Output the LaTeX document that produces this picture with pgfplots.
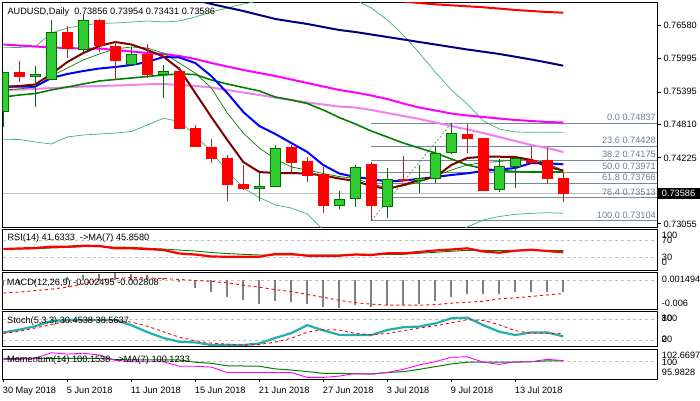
\documentclass[border=0pt]{standalone}
\usepackage{fontspec}
\setmainfont{Liberation Sans}
\usepackage{pgfplots}
\pgfplotsset{compat=1.18}
\definecolor{bullfill}{RGB}{50,205,50}
\definecolor{bulledge}{RGB}{0,110,0}
\definecolor{bearwick}{RGB}{178,34,34}
\definecolor{mtred}{RGB}{255,0,0}
\definecolor{mtblue}{RGB}{0,0,255}
\definecolor{mtmagenta}{RGB}{255,0,255}
\definecolor{mtmaroon}{RGB}{128,0,0}
\definecolor{mtnavy}{RGB}{0,0,128}
\definecolor{mtviolet}{RGB}{238,130,238}
\definecolor{mtgreen}{RGB}{0,128,0}
\definecolor{mtbb}{RGB}{60,179,113}
\definecolor{fib}{RGB}{119,136,153}
\definecolor{fibtext}{RGB}{112,128,144}
\definecolor{bid}{RGB}{192,192,192}
\definecolor{lvl}{RGB}{192,192,192}
\definecolor{stochc}{RGB}{32,178,170}
\definecolor{histo}{RGB}{128,128,128}
\pgfplotsset{
 panel/.style={scale only axis, width=654.3pt, anchor=north west, xmin=-0.04, xmax=40.86,
   xtick=\empty, ytick=\empty, axis line style={black, line width=0.8pt},
   tick style={black, line width=0.8pt}},
 lvlline/.style={lvl, line width=0.8pt, dash pattern=on 3pt off 3pt},
}
\newcommand\bull[7]{%
 \addplot[draw=bulledge, line width=1pt] coordinates {(#1,#6) (#1,#5)};
 \addplot[draw=bulledge, fill=bullfill, line width=0.9pt] coordinates {(#2,#4) (#3,#4) (#3,#7) (#2,#7)} --cycle;}
\newcommand\bear[7]{%
 \addplot[draw=bearwick, line width=1pt] coordinates {(#1,#6) (#1,#5)};
 \addplot[draw=mtred, fill=mtred, line width=0.9pt] coordinates {(#2,#4) (#3,#4) (#3,#7) (#2,#7)} --cycle;}
\begin{document}
\begin{tikzpicture}[font=\fontsize{9.2pt}{11pt}\selectfont]
\path[use as bounding box, fill=white] (0pt,0pt) rectangle (700pt,-400pt);
% ---------------- main panel
\begin{axis}[panel, at={(2.7pt,-2.7pt)}, height=224.3pt, ymin=0.729911, ymax=0.769836,
  ytick={0.73055,0.74225,0.74810,0.75395,0.75995,0.76580}, yticklabels={,,,,,},
  ytick pos=right, tick align=outside, major tick length=4pt]
% fibonacci levels
\addplot[fib, line width=0.8pt] coordinates {(23,0.74837) (40.86,0.74837)};
\addplot[fib, line width=0.8pt] coordinates {(23,0.74428) (40.86,0.74428)};
\addplot[fib, line width=0.8pt] coordinates {(23,0.74175) (40.86,0.74175)};
\addplot[fib, line width=0.8pt] coordinates {(23,0.73971) (40.86,0.73971)};
\addplot[fib, line width=0.8pt] coordinates {(23,0.73766) (40.86,0.73766)};
\addplot[fib, line width=0.8pt] coordinates {(23,0.73513) (40.86,0.73513)};
\addplot[fib, line width=0.8pt] coordinates {(23,0.73104) (40.86,0.73104)};
\addplot[fib, line width=0.8pt, dash pattern=on 2pt off 2pt] coordinates {(23,0.73104) (28,0.74837)};
% bid line
\addplot[bid, line width=0.8pt] coordinates {(-0.04,0.73586) (40.86,0.73586)};
% Bollinger bands
\addplot[mtbb, line width=0.7pt] coordinates {(0,0.76183)(1,0.76186)(2,0.76204)(3,0.76444)(4,0.76533)(5,0.76587)(6,0.76613)(7,0.76622)(8,0.76640)(9,0.76658)(10,0.76640)(11,0.76658)(12,0.76729)(13,0.76818)(14,0.76889)(15,0.76961)(16,0.77014)(17,0.77050)(18,0.77067)(19,0.77067)(20,0.77067)(21,0.77067)(22,0.77032)(23,0.76889)(24,0.76676)(25,0.76409)(26,0.76088)(27,0.75750)(28,0.75430)(29,0.75181)(30,0.74878)(31,0.74736)(32,0.74682)(33,0.74677)(34,0.74677)(35,0.74677)};
\addplot[mtbb, line width=0.7pt] coordinates {(0,0.74552)(1,0.74549)(2,0.74504)(3,0.74469)(4,0.74593)(5,0.74629)(6,0.74647)(7,0.74664)(8,0.74691)(9,0.74807)(10,0.74926)(11,0.74869)(12,0.74629)(13,0.74326)(14,0.73988)(15,0.73685)(16,0.73516)(17,0.73383)(18,0.73329)(19,0.73223)(20,0.72938)(21,0.72760)(22,0.72653)(23,0.72582)(24,0.72546)(25,0.72546)(26,0.72582)(27,0.72671)(28,0.72831)(29,0.72991)(30,0.73116)(31,0.73178)(32,0.73217)(33,0.73235)(34,0.73246)(35,0.73235)};
% moving averages
\addplot[mtred, line width=2pt] coordinates {(22,0.77112)(23,0.77076)(24,0.77041)(25,0.77005)(26,0.76978)(27,0.76955)(28,0.76937)(29,0.76920)(30,0.76902)(31,0.76879)(32,0.76854)(33,0.76836)(34,0.76818)(35,0.76806)};
\addplot[mtnavy, line width=2pt] coordinates {(11,0.77121)(12,0.77032)(13,0.76961)(14,0.76898)(15,0.76836)(16,0.76765)(17,0.76694)(18,0.76649)(19,0.76605)(20,0.76551)(21,0.76498)(22,0.76462)(23,0.76418)(24,0.76373)(25,0.76329)(26,0.76284)(27,0.76240)(28,0.76195)(29,0.76151)(30,0.76111)(31,0.76071)(32,0.76022)(33,0.75973)(34,0.75919)(35,0.75862)};
\addplot[mtmagenta, line width=2pt] coordinates {(0,0.76240)(1,0.76222)(2,0.76204)(3,0.76186)(4,0.76177)(5,0.76168)(6,0.76168)(7,0.76142)(8,0.76115)(9,0.76088)(10,0.76071)(11,0.76035)(12,0.75982)(13,0.75910)(14,0.75848)(15,0.75786)(16,0.75732)(17,0.75679)(18,0.75617)(19,0.75554)(20,0.75492)(21,0.75430)(22,0.75385)(23,0.75332)(24,0.75270)(25,0.75189)(26,0.75118)(27,0.75065)(28,0.75011)(29,0.74976)(30,0.74949)(31,0.74922)(32,0.74896)(33,0.74878)(34,0.74860)(35,0.74851)};
\addplot[mtviolet, line width=2pt] coordinates {(0,0.75430)(1,0.75439)(2,0.75448)(3,0.75465)(4,0.75478)(5,0.75492)(6,0.75501)(7,0.75510)(8,0.75519)(9,0.75531)(10,0.75537)(11,0.75519)(12,0.75501)(13,0.75474)(14,0.75430)(15,0.75385)(16,0.75341)(17,0.75296)(18,0.75252)(19,0.75207)(20,0.75172)(21,0.75136)(22,0.75118)(23,0.75074)(24,0.75020)(25,0.74967)(26,0.74914)(27,0.74851)(28,0.74789)(29,0.74727)(30,0.74664)(31,0.74593)(32,0.74522)(33,0.74451)(34,0.74397)(35,0.74326)};
\addplot[mtgreen, line width=1.6pt] coordinates {(0,0.75305)(1,0.75341)(2,0.75367)(3,0.75430)(4,0.75483)(5,0.75537)(6,0.75590)(7,0.75617)(8,0.75643)(9,0.75670)(10,0.75697)(11,0.75715)(12,0.75706)(13,0.75608)(14,0.75537)(15,0.75474)(16,0.75412)(17,0.75305)(18,0.75252)(19,0.75189)(20,0.75074)(21,0.74940)(22,0.74825)(23,0.74700)(24,0.74593)(25,0.74486)(26,0.74397)(27,0.74308)(28,0.74202)(29,0.74095)(30,0.74032)(31,0.73997)(32,0.73979)(33,0.73970)(34,0.73970)(35,0.73970)};
\addplot[mtgreen, line width=0.7pt] coordinates {(0,0.75430)(1,0.75448)(2,0.75483)(3,0.75679)(4,0.75821)(5,0.75964)(6,0.76071)(7,0.76160)(8,0.76195)(9,0.76177)(10,0.76088)(11,0.75910)(12,0.75732)(13,0.75465)(14,0.75020)(15,0.74664)(16,0.74397)(17,0.74202)(18,0.74059)(19,0.74006)(20,0.73943)(21,0.73890)(22,0.73854)(23,0.73757)(24,0.73694)(25,0.73721)(26,0.73792)(27,0.73899)(28,0.74006)(29,0.74095)(30,0.74139)(31,0.74157)(32,0.74184)(33,0.74193)(34,0.74130)(35,0.73988)};
\addplot[mtblue, line width=2pt] coordinates {(0,0.75488)(1,0.75488)(2,0.75492)(3,0.75643)(4,0.75715)(5,0.75768)(6,0.75812)(7,0.75839)(8,0.75875)(9,0.75928)(10,0.76017)(11,0.76008)(12,0.75910)(13,0.75679)(14,0.75376)(15,0.75038)(16,0.74789)(17,0.74647)(18,0.74486)(19,0.74326)(20,0.74094)(21,0.73943)(22,0.73881)(23,0.73846)(24,0.73801)(25,0.73819)(26,0.73846)(27,0.73881)(28,0.73917)(29,0.73947)(30,0.73988)(31,0.74015)(32,0.74041)(33,0.74130)(34,0.74125)(35,0.74107)};
\addplot[mtmaroon, line width=2pt] coordinates {(0,0.75483)(1,0.75501)(2,0.75528)(3,0.75715)(4,0.75928)(5,0.76088)(6,0.76213)(7,0.76284)(8,0.76240)(9,0.76142)(10,0.76026)(11,0.75804)(12,0.75376)(13,0.74949)(14,0.74540)(15,0.74148)(16,0.73970)(17,0.73952)(18,0.73952)(19,0.73943)(20,0.73908)(21,0.73854)(22,0.73810)(23,0.73721)(24,0.73668)(25,0.73739)(26,0.73828)(27,0.73881)(28,0.74095)(29,0.74219)(30,0.74242)(31,0.74242)(32,0.74237)(33,0.74184)(34,0.74064)(35,0.73997)};
% candles: k, left, right, O, H, L, C
\bull{0}{-0.31}{0.31}{0.75043}{0.75750}{0.74771}{0.75738}
\bear{1}{0.69}{1.31}{0.75738}{0.75946}{0.75577}{0.75679}
\bull{2}{1.69}{2.31}{0.75674}{0.75857}{0.75132}{0.75715}
\bull{3}{2.69}{3.31}{0.75620}{0.76676}{0.75620}{0.76462}
\bear{4}{3.69}{4.31}{0.76462}{0.76569}{0.75994}{0.76165}
\bull{5}{4.69}{5.31}{0.76154}{0.76783}{0.76111}{0.76663}
\bear{6}{5.69}{6.31}{0.76676}{0.76694}{0.76111}{0.76231}
\bear{7}{6.69}{7.31}{0.76213}{0.76302}{0.75608}{0.75964}
\bull{8}{7.69}{8.31}{0.75887}{0.76200}{0.75887}{0.76071}
\bear{9}{8.69}{9.31}{0.76071}{0.76248}{0.75649}{0.75709}
\bull{10}{9.69}{10.31}{0.75715}{0.75875}{0.75293}{0.75768}
\bear{11}{10.69}{11.31}{0.75768}{0.75844}{0.74741}{0.74741}
\bear{12}{11.69}{12.31}{0.74748}{0.74807}{0.74420}{0.74420}
\bear{13}{12.69}{13.31}{0.74410}{0.74552}{0.74136}{0.74207}
\bear{14}{13.69}{14.31}{0.74214}{0.74273}{0.73459}{0.73751}
\bear{15}{14.69}{15.31}{0.73757}{0.74095}{0.73650}{0.73680}
\bull{16}{15.69}{16.31}{0.73680}{0.73958}{0.73459}{0.73721}
\bull{17}{16.69}{17.31}{0.73716}{0.74451}{0.73716}{0.74392}
\bear{18}{17.69}{18.31}{0.74403}{0.74451}{0.73947}{0.74143}
\bear{19}{18.69}{19.31}{0.74153}{0.74242}{0.73797}{0.73911}
\bear{20}{19.69}{20.31}{0.73935}{0.74064}{0.73235}{0.73377}
\bull{21}{20.69}{21.31}{0.73377}{0.73637}{0.73306}{0.73490}
\bull{22}{21.69}{22.31}{0.73502}{0.74095}{0.73352}{0.74054}
\bear{23}{22.69}{23.31}{0.74113}{0.74143}{0.73104}{0.73370}
\bull{24}{23.69}{24.31}{0.73365}{0.74047}{0.73146}{0.73840}
\bear{25}{24.69}{25.31}{0.73840}{0.74255}{0.73815}{0.73825}
\bull{26}{25.69}{26.31}{0.73815}{0.74095}{0.73602}{0.73863}
\bull{27}{26.69}{27.31}{0.73858}{0.74438}{0.73769}{0.74303}
\bull{28}{27.69}{28.31}{0.74314}{0.74837}{0.74285}{0.74659}
\bear{29}{28.69}{29.31}{0.74641}{0.74820}{0.74303}{0.74570}
\bear{30}{29.69}{30.31}{0.74570}{0.74570}{0.73632}{0.73650}
\bull{31}{30.69}{31.31}{0.73662}{0.74196}{0.73609}{0.74070}
\bull{32}{31.69}{32.31}{0.74077}{0.74242}{0.73680}{0.74214}
\bear{33}{32.69}{33.31}{0.74184}{0.74420}{0.74113}{0.74143}
\bear{34}{33.69}{34.31}{0.74171}{0.74403}{0.73751}{0.73851}
\bear{35}{34.69}{35.31}{0.73856}{0.73954}{0.73431}{0.73586}
\end{axis}
% ---------------- RSI
\begin{axis}[panel, at={(2.7pt,-229pt)}, height=41pt, ymin=-1.9, ymax=98.7]
\addplot[lvlline] coordinates {(-0.04,70) (40.86,70)};
\addplot[lvlline] coordinates {(-0.04,30) (40.86,30)};
\addplot[mtgreen, line width=0.9pt] coordinates {(0,49.6)(1,49.8)(2,50.2)(3,52)(4,53.5)(5,55.3)(6,55.3)(7,54.5)(8,53.8)(9,51.5)(10,49.6)(11,47)(12,44.7)(13,41)(14,38.5)(15,36.5)(16,35)(17,34.9)(18,34.9)(19,34.9)(20,34.9)(21,34.9)(22,36.6)(23,36.6)(24,36.6)(25,36.6)(26,39.1)(27,41.5)(28,44)(29,46.4)(30,46.4)(31,45.5)(32,45.5)(33,45.5)(34,45.7)(35,45.86)};
\addplot[mtred, line width=2.2pt] coordinates {(0,49.6)(1,50.9)(2,52.1)(3,55.3)(4,55.3)(5,57.7)(6,57)(7,51.3)(8,51.3)(9,49.6)(10,47.2)(11,38.6)(12,36.1)(13,31.2)(14,30.7)(15,30.7)(16,30.7)(17,37.4)(18,37.4)(19,33.2)(20,33.2)(21,33.2)(22,36.1)(23,34.9)(24,39.1)(25,39.1)(26,42.3)(27,46)(28,48.4)(29,51.3)(30,43.5)(31,40.6)(32,45.5)(33,47.9)(34,44.7)(35,41.63)};
\end{axis}
% ---------------- MACD
\begin{axis}[panel, at={(2.7pt,-272.7pt)}, height=36.3pt, ymin=-0.006, ymax=0.001494]
\addplot[lvlline] coordinates {(-0.04,0) (40.86,0)};
\addplot[ycomb, histo, line width=2pt] coordinates {(0,-0.0013)(1,-0.0010)(2,-0.0007)(3,0.0002)(4,0.0006)(5,0.0011)(6,0.0013)(7,0.0014)(8,0.0012)(9,0.0010)(10,0.0005)(11,-0.0005)(12,-0.0016)(13,-0.0024)(14,-0.0035)(15,-0.0041)(16,-0.0050)(17,-0.0044)(18,-0.0046)(19,-0.0050)(20,-0.0055)(21,-0.0057)(22,-0.0052)(23,-0.0055)(24,-0.0052)(25,-0.0052)(26,-0.0050)(27,-0.0044)(28,-0.0035)(29,-0.0028)(30,-0.0030)(31,-0.0028)(32,-0.0024)(33,-0.0024)(34,-0.0024)(35,-0.002495)};
\addplot[mtred, line width=0.9pt, dash pattern=on 3pt off 3pt] coordinates {(0,-0.0027)(1,-0.0025)(2,-0.0022)(3,-0.0019)(4,-0.0015)(5,-0.0008)(6,0)(7,0.0003)(8,0.0005)(9,0.0004)(10,0.0003)(11,0.0001)(12,-0.0001)(13,-0.0003)(14,-0.0006)(15,-0.0011)(16,-0.0015)(17,-0.0020)(18,-0.0024)(19,-0.0030)(20,-0.0036)(21,-0.0042)(22,-0.0047)(23,-0.0050)(24,-0.0052)(25,-0.0052)(26,-0.0052)(27,-0.0051)(28,-0.0048)(29,-0.0046)(30,-0.0044)(31,-0.0039)(32,-0.0037)(33,-0.0034)(34,-0.0031)(35,-0.002808)};
\end{axis}
% ---------------- Stochastic
\begin{axis}[panel, at={(2.7pt,-311pt)}, height=35.7pt, ymin=0.6, ymax=104.1]
\addplot[lvlline] coordinates {(-0.04,80) (40.86,80)};
\addplot[lvlline] coordinates {(-0.04,20) (40.86,20)};
\addplot[stochc, line width=2.2pt] coordinates {(0,42)(1,50)(2,60)(3,75)(4,78)(5,78)(6,78)(7,78)(8,63)(9,43)(10,26)(11,15)(12,13)(13,5.5)(14,5.5)(15,5.5)(16,10)(17,26)(18,40)(19,63)(20,48)(21,35)(22,34.5)(23,34.5)(24,49)(25,57)(26,59)(27,68)(28,83)(29,85)(30,63)(31,44)(32,34.5)(33,42)(34,42)(35,30.45)};
\addplot[mtred, line width=0.9pt, dash pattern=on 3pt off 3pt] coordinates {(0,39)(1,45)(2,55)(3,65)(4,74)(5,78)(6,78)(7,77)(8,72)(9,60)(10,44)(11,28)(12,18)(13,11)(14,8)(15,5.5)(16,7)(17,14)(18,25)(19,43)(20,50)(21,49)(22,39)(23,35)(24,39)(25,47)(26,55)(27,61)(28,70)(29,79)(30,77)(31,64)(32,47)(33,40)(34,39.5)(35,38.56)};
\end{axis}
% ---------------- Momentum
\begin{axis}[panel, at={(2.7pt,-349.3pt)}, height=30pt, ymin=95.9828, ymax=102.6697,
  xtick={0,4,8,12,16,20,24,28,32}, xticklabels={,,,,,,,,}, xtick pos=left, tick align=outside, major tick length=3pt]
\addplot[lvlline] coordinates {(-0.04,100) (40.86,100)};
\addplot[mtgreen, line width=1pt] coordinates {(0,100.66)(1,100.66)(2,100.66)(3,100.66)(4,100.66)(5,100.66)(6,100.66)(7,100.4)(8,100.3)(9,100.3)(10,100.3)(11,100.3)(12,99.8)(13,99.55)(14,99.0)(15,98.95)(16,98.9)(17,98.3)(18,98.05)(19,97.7)(20,97.3)(21,97.3)(22,97.2)(23,97.2)(24,97.5)(25,97.7)(26,98.2)(27,98.8)(28,99.4)(29,99.8)(30,99.8)(31,99.8)(32,99.8)(33,99.9)(34,100.1)(35,100.12)};
\addplot[mtmagenta, line width=0.9pt] coordinates {(0,100.44)(1,100.44)(2,100.66)(3,101.9)(4,101.6)(5,101.8)(6,101.4)(7,100.2)(8,99.9)(9,99.9)(10,99.9)(11,98.9)(12,98.9)(13,98.7)(14,97.5)(15,97.5)(16,97.5)(17,97.5)(18,97.5)(19,96.4)(20,96.4)(21,96.7)(22,97.3)(23,97.1)(24,97.5)(25,98.2)(26,99.2)(27,99.9)(28,100.9)(29,101.0)(30,99.8)(31,99.3)(32,99.9)(33,99.9)(34,100.44)(35,100.15)};
\end{axis}
% ---------------- texts
\node[anchor=base west, inner sep=0pt] at (7.3pt,-14pt) {AUDUSD,Daily\hspace{5pt}0.73856 0.73954 0.73431 0.73586};
\node[anchor=base west, inner sep=0pt] at (7.3pt,-240.8pt) {RSI(14) 41.6333\hspace{5pt}->MA(7) 45.8580};
\node[anchor=base west, inner sep=0pt] at (6.7pt,-285.3pt) {MACD(12,26,9) -0.002495 -0.002808};
\node[anchor=base west, inner sep=0pt] at (7pt,-323.6pt) {Stoch(5,3,3) 30.4538 38.5637};
\node[anchor=base west, inner sep=0pt] at (7pt,-362.1pt) {Momentum(14) 100.1538\hspace{5pt}->MA(7) 100.1233};
% fib labels
\begin{scope}[every node/.style={anchor=base east, inner sep=0pt, text=fibtext}]
\node at (656pt,-120.6pt) {0.0 0.74837};
\node at (656pt,-143.6pt) {23.6 0.74428};
\node at (656pt,-157.8pt) {38.2 0.74175};
\node at (656pt,-169.3pt) {50.0 0.73971};
\node at (656pt,-180.8pt) {61.8 0.73766};
\node at (656pt,-195pt) {76.4 0.73513};
\node at (656pt,-218pt) {100.0 0.73104};
\end{scope}
% right scale labels
\begin{scope}[every node/.style={anchor=base west, inner sep=0pt}]
\node at (663.3pt,-28.3pt) {0.76580};
\node at (663.3pt,-61.3pt) {0.75995};
\node at (663.3pt,-94.3pt) {0.75395};
\node at (663.3pt,-127.6pt) {0.74810};
\node at (663.3pt,-161pt) {0.74225};
\node at (663.3pt,-227.3pt) {0.73055};
\node at (661.7pt,-238.3pt) {100};
\node at (661.7pt,-243.3pt) {70};
\node at (661.7pt,-260.3pt) {30};
\node at (661.7pt,-265.8pt) {0};
\node at (661.7pt,-282.3pt) {0.001494};
\node at (661.7pt,-306.1pt) {-0.006};
\node at (661.7pt,-321.6pt) {100};
\node at (661.7pt,-321.6pt) {80};
\node at (661.7pt,-342.6pt) {20};
\node at (661.7pt,-342.6pt) {0};
\node at (661.7pt,-358.6pt) {102.6697};
\node at (661.7pt,-365.8pt) {100};
\node at (661.7pt,-375.8pt) {95.9828};
\end{scope}
\fill[black] (657.7pt,-187.7pt) rectangle (700pt,-198.7pt);
\node[anchor=base west, inner sep=0pt, text=white] at (661.7pt,-196.6pt) {0.73586};
% dates
\begin{scope}[every node/.style={anchor=base west, inner sep=0pt}]
\node at (2.7pt,-393pt) {30 May 2018};
\node at (66.7pt,-393pt) {5 Jun 2018};
\node at (130.7pt,-393pt) {11 Jun 2018};
\node at (194.7pt,-393pt) {15 Jun 2018};
\node at (258.7pt,-393pt) {21 Jun 2018};
\node at (322.7pt,-393pt) {27 Jun 2018};
\node at (386.7pt,-393pt) {3 Jul 2018};
\node at (450.7pt,-393pt) {9 Jul 2018};
\node at (514.7pt,-393pt) {13 Jul 2018};
\end{scope}
\end{tikzpicture}
\end{document}
